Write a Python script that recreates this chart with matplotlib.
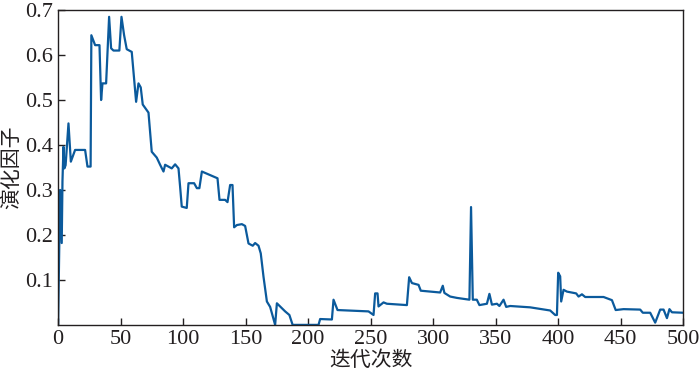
import matplotlib
matplotlib.use('Agg')
import matplotlib.pyplot as plt

# Evolution factor vs iteration
iters = [0, 1.6, 2.9, 3.5, 4.3, 5.0, 6.0, 8.3, 10.2, 13.6, 21.6, 23.5, 26.0, 26.6, 29.6,
         33.1, 34.4, 35.5, 38.4, 40.8, 42.4, 44.3, 49.0, 50.7, 52.8, 54.9, 58.9, 62.4,
         64.3, 66.1, 67.7, 72.3, 74.9, 78.9, 81.6, 84.3, 85.6, 90.9, 93.6, 96.3, 97.6,
         98.9, 102.9, 104.3, 107, 108.8, 111, 113, 115, 121.6, 127.5, 129.1, 133.6,
         135.5, 137.6, 139.5, 140.8, 143, 147, 149.6, 152.3, 155.7, 157.6, 160.3, 162.1,
         164.3, 167, 169.6, 173.6, 175, 177.6, 181.6, 185, 187.6, 208.3, 209.6, 219,
         220.3, 223.5, 248.3, 252.3, 253.6, 255.5, 256.3, 260.3, 263, 279, 280.8, 283,
         288.3, 290.1, 305.6, 307.7, 309, 313.6, 319, 329, 330.3, 331.7, 334.9, 337,
         343, 345, 347, 351, 353, 356.3, 358.4, 361.6, 377.6, 393.6, 397.6, 399, 400,
         401.6, 402.4, 404.3, 407, 414.4, 416.3, 419, 421.6, 436.3, 443, 446, 452.3,
         465.6, 467.7, 473.6, 477.6, 481.6, 484.3, 487, 489, 491, 500]
factor = [0, 0.30, 0.182, 0.32, 0.396, 0.348, 0.355, 0.448, 0.363, 0.389, 0.389, 0.352,
          0.352, 0.644, 0.622, 0.622, 0.50, 0.537, 0.537, 0.685, 0.615, 0.61, 0.61, 0.685,
          0.644, 0.613, 0.607, 0.496, 0.537, 0.528, 0.49, 0.472, 0.385, 0.372, 0.356,
          0.341, 0.356, 0.348, 0.357, 0.348, 0.307, 0.263, 0.26, 0.315, 0.315, 0.315,
          0.304, 0.304, 0.341, 0.333, 0.326, 0.278, 0.278, 0.273, 0.311, 0.311, 0.217,
          0.222, 0.224, 0.22, 0.181, 0.176, 0.182, 0.176, 0.159, 0.107, 0.052, 0.04, 0.0,
          0.048, 0.041, 0.03, 0.022, 0.0, 0.0, 0.013, 0.012, 0.056, 0.033, 0.03, 0.022,
          0.07, 0.07, 0.041, 0.05, 0.047, 0.044, 0.106, 0.093, 0.089, 0.076, 0.072, 0.087,
          0.071, 0.063, 0.06, 0.056, 0.262, 0.056, 0.056, 0.044, 0.047, 0.069, 0.045,
          0.047, 0.042, 0.056, 0.04, 0.042, 0.039, 0.032, 0.022, 0.022, 0.116, 0.108,
          0.052, 0.078, 0.074, 0.07, 0.063, 0.068, 0.062, 0.062, 0.055, 0.033, 0.035,
          0.034, 0.027, 0.027, 0.005, 0.034, 0.034, 0.015, 0.035, 0.028, 0.027]

xticks = [0, 50, 100, 150, 200, 250, 300, 350, 400, 450, 500]
yticks = [0.1, 0.2, 0.3, 0.4, 0.5, 0.6, 0.7]

plt.rcParams['font.family'] = ['Liberation Serif', 'Noto Sans CJK SC']

fig = plt.figure(figsize=(7, 3.73), dpi=100)
ax = fig.add_axes([0.083, 0.129, 0.893, 0.844])

ax.plot(iters, factor, color='#0b5a9c', linewidth=1.6, clip_on=True)

ax.set_xlim(0, 500)
ax.set_ylim(0, 0.7)
ax.set_xticks(xticks)
ax.set_yticks(yticks)
ax.set_yticklabels([f'{v:.1f}' for v in yticks])
ax.tick_params(direction='in', length=5, width=1, labelsize=16, colors='#231f20',
               top=False, right=False, pad=4)
for s in ax.spines.values():
    s.set_color('#231f20')
    s.set_linewidth(1)

ax.set_xlabel('迭代次数', fontsize=15, family=['Noto Sans CJK SC'], labelpad=0, color='#231f20')
ax.set_ylabel('演化因子', fontsize=15, family=['Noto Sans CJK SC'], labelpad=2, color='#231f20')

fig.savefig('out.png', dpi=100)
